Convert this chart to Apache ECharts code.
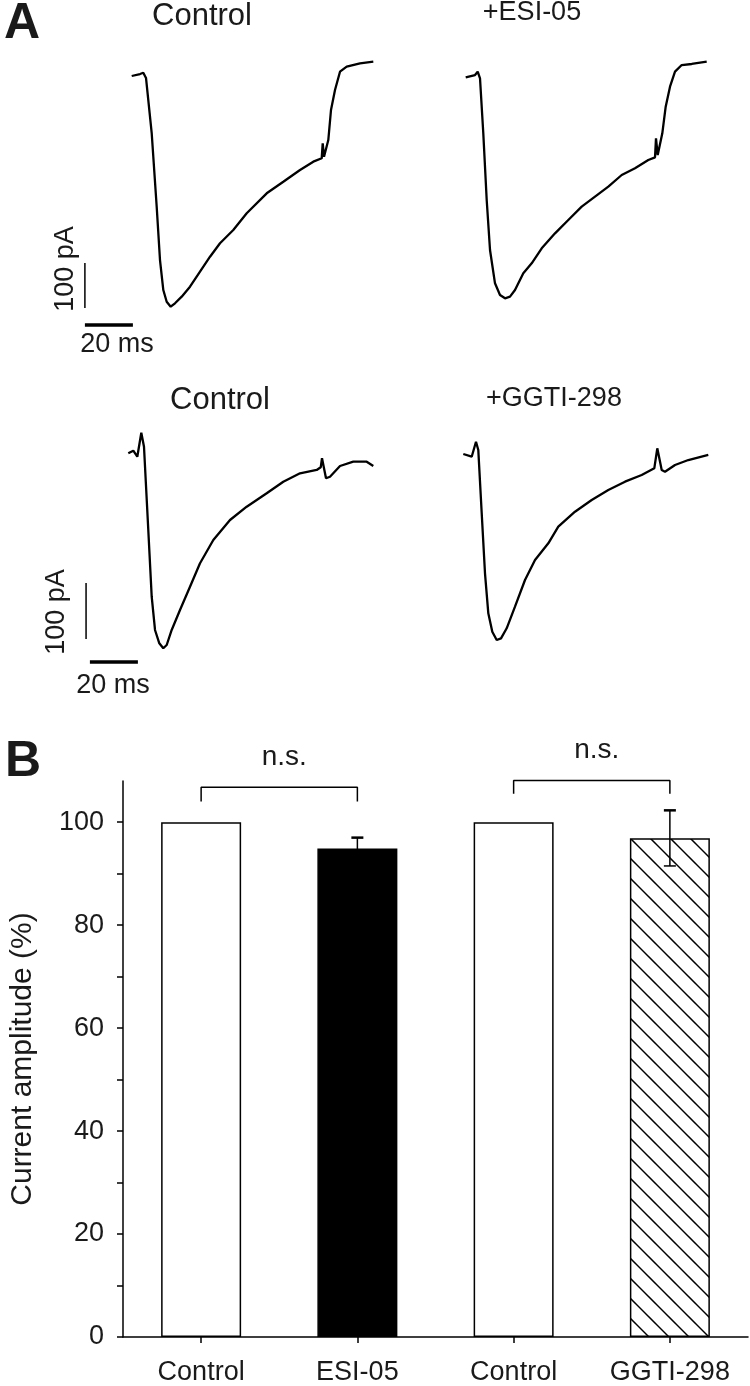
<!DOCTYPE html>
<html>
<head>
<meta charset="utf-8">
<script src="https://cdn.jsdelivr.net/npm/echarts@6/dist/echarts.min.js"></script>
<style>
html,body{margin:0;padding:0;background:#fff;}
#chart{width:750px;height:1386px;}
</style>
</head>
<body>
<div id="chart"></div>
<script>
// ---------- Panel A: current traces (time in ms, current in pA) ----------
const ctrl1Time = [0, 3.46, 4.83, 5.96, 8.33, 10.42, 11.79, 13.17, 14.58, 16.25, 18.04, 20.83, 24.29, 28.46, 32.63, 36.79, 42.33, 47.92, 56.25, 63.17, 70.13, 75.67, 79.17, 79.58, 80.13, 80.96, 81.92, 83.04, 84.71, 86.79, 89.58, 95.13, 100.67];
const ctrl1Current = [0, 4.4, 7.3, -4.4, -126.7, -291.1, -408.9, -475.6, -501.6, -512.7, -505.1, -490.4, -468.2, -434.9, -401.6, -371.8, -342.2, -305.1, -260.7, -234.9, -208.9, -190.4, -182.9, -149.6, -179.3, -182.9, -142.2, -75.6, -31.1, 9.6, 20.7, 28.2, 31.8];

const esiTime = [0, 3.88, 5.0, 5.96, 7.33, 8.75, 10.13, 12.21, 14.29, 16.38, 18.46, 20.54, 24.0, 27.5, 31.67, 37.21, 42.75, 48.33, 53.88, 59.42, 65.0, 70.54, 76.08, 78.88, 79.29, 80.0, 80.54, 81.92, 83.33, 85.13, 87.21, 90.0, 94.17, 100.42];
const esiCurrent = [-2.9, 2.2, 9.6, -5.1, -127.3, -275.6, -386.7, -460.7, -486.7, -494.0, -490.4, -475.6, -438.4, -416.2, -382.9, -349.6, -320.0, -290.4, -268.2, -246.0, -220.0, -205.1, -186.7, -180.7, -138.4, -175.6, -179.3, -127.3, -68.2, -23.8, 9.6, 24.4, 26.7, 31.8];

const ctrl2Time = [0, 2.08, 3.75, 5.42, 6.54, 8.33, 9.75, 11.13, 12.92, 14.58, 16.0, 18.08, 21.54, 25.71, 29.88, 35.42, 42.38, 49.33, 57.67, 64.58, 71.54, 78.5, 80.17, 80.71, 82.38, 84.04, 88.21, 93.75, 99.33, 102.08];
const ctrl2Current = [0, 4.6, -6.1, 36.8, 11.8, -137.0, -256.1, -315.5, -339.3, -348.2, -342.3, -315.5, -279.8, -238.2, -196.4, -154.8, -119.1, -95.4, -71.4, -50.7, -35.7, -29.8, -25.0, -8.9, -44.6, -41.8, -22.7, -15.0, -15.0, -22.7];

const ggtiTime = [0, 3.5, 5.29, 6.25, 7.67, 9.04, 10.42, 12.08, 13.92, 15.71, 18.08, 21.54, 25.71, 29.88, 35.42, 39.58, 46.54, 53.5, 60.42, 67.38, 74.33, 79.58, 80.83, 82.67, 84.04, 88.21, 93.75, 102.08];
const ggtiCurrent = [-1.3, -6.1, 20.7, 5.9, -107.1, -214.3, -285.7, -318.6, -333.4, -330.4, -312.5, -273.9, -226.3, -190.5, -160.7, -131.1, -104.3, -83.4, -65.5, -50.7, -38.8, -26.8, 8.9, -29.8, -32.9, -20.9, -12.0, -3.0];

const traceTitles = ['Control', '+ESI-05', 'Control', '+GGTI-298'];

// scale bars: [start time, length ms] and [time, bottom current, length pA]
const scaleTimeStart = [-19.5, -16.0];
const scaleTimeLevel = [-553.3, -372.7];
const scaleTimeLength = 20;
const scaleCurrentTime = [-19.5, -17.6];
const scaleCurrentBottom = [-515.6, -331.6];
const scaleCurrentLength = 100;

// ---------- Panel B: bar chart ----------
const categories = ['Control', 'ESI-05', 'Control', 'GGTI-298'];
const amplitudes = [100, 94.9, 100, 96.9];
const sems = [0, 2.1, 0, 5.4];
const yTickValues = [0, 10, 20, 30, 40, 50, 60, 70, 80, 90, 100];
const yLabelValues = [0, 20, 40, 60, 80, 100];
const bracketPairs = [[0, 1], [2, 3]];
const bracketTops = [106.8, 108.1];
const bracketFeet = [104.0, 105.5];

const FONT = 'Liberation Sans, Arial, Helvetica, sans-serif';
const TXT = '#1a1a1a';

function zip(a, b) { return a.map((v, k) => [v, b[k]]); }

// hatch pattern
const hatch = document.createElement('canvas');
hatch.width = 20; hatch.height = 20;
(function () {
  const c = hatch.getContext('2d');
  c.fillStyle = '#fff'; c.fillRect(0, 0, 20, 20);
  c.strokeStyle = '#000'; c.lineWidth = 1.5;
  for (let k = -2; k <= 1; k++) {
    c.beginPath();
    c.moveTo(-5, 8 + 20 * k - 5);
    c.lineTo(25, 8 + 20 * k + 25);
    c.stroke();
  }
})();

const chart = echarts.init(document.getElementById('chart'), null, { renderer: 'canvas' });

const rowGrids = [
  { left: 83.7, top: 49, width: 297.6, height: 288 },
  { left: 417.7, top: 49, width: 297.6, height: 288 },
  { left: 80.3, top: 419.7, width: 297.6, height: 257.6 },
  { left: 415.3, top: 419.7, width: 297.6, height: 257.6 }
];
const rowY = [[-580, 60], [-580, 60], [-400, 60], [-400, 60]];

const grids = rowGrids.slice();
grids.push({ left: 111, right: 2, top: 781, bottom: 48 });

const xAxes = [], yAxes = [];
for (let i = 0; i < 4; i++) {
  xAxes.push({ type: 'value', gridIndex: i, min: -20, max: 104, show: false });
  yAxes.push({ type: 'value', gridIndex: i, min: rowY[i][0], max: rowY[i][1], show: false });
}
xAxes.push({
  type: 'category', gridIndex: 4, data: categories,
  axisLine: { show: true, lineStyle: { color: '#000', width: 1.5 } },
  axisTick: { show: true, alignWithLabel: true, length: 6, lineStyle: { color: '#000', width: 1.5 } },
  axisLabel: { fontSize: 27, color: TXT, fontFamily: FONT, margin: 22, interval: 0 },
  splitLine: { show: false }
});
yAxes.push({
  type: 'value', gridIndex: 4, min: 0, max: 108,
  name: 'Current amplitude (%)', nameLocation: 'middle', nameGap: 85,
  nameTextStyle: { fontSize: 30, color: TXT, fontFamily: FONT },
  axisLine: { show: true, lineStyle: { color: '#000', width: 1.5 } },
  axisTick: { show: true, length: 6, customValues: yTickValues, lineStyle: { color: '#000', width: 1.5 } },
  axisLabel: { fontSize: 27, color: TXT, fontFamily: FONT, margin: 19, customValues: yLabelValues },
  splitLine: { show: false }
});

const traces = [zip(ctrl1Time, ctrl1Current), zip(esiTime, esiCurrent), zip(ctrl2Time, ctrl2Current), zip(ggtiTime, ggtiCurrent)];
const series = [];
traces.forEach((d, i) => {
  series.push({
    type: 'line', xAxisIndex: i, yAxisIndex: i, data: d, symbol: 'none',
    lineStyle: { color: '#000', width: 2.3 }, silent: true, animation: false
  });
});
// scale bars (in control grids: 0 and 2)
[0, 2].forEach((g, r) => {
  series.push({
    type: 'line', xAxisIndex: g, yAxisIndex: g, symbol: 'none', animation: false, clip: false,
    data: [[scaleTimeStart[r], scaleTimeLevel[r]], [scaleTimeStart[r] + scaleTimeLength, scaleTimeLevel[r]]],
    lineStyle: { color: '#000', width: 3.5 }
  });
  series.push({
    type: 'line', xAxisIndex: g, yAxisIndex: g, symbol: 'none', animation: false, clip: false,
    data: [[scaleCurrentTime[r], scaleCurrentBottom[r]], [scaleCurrentTime[r], scaleCurrentBottom[r] + scaleCurrentLength]],
    lineStyle: { color: '#000', width: 1.5 }
  });
});

// bars
const barStyles = [
  { color: '#fff', borderColor: '#000', borderWidth: 1.5 },
  { color: '#000', borderColor: '#000', borderWidth: 1.5 },
  { color: '#fff', borderColor: '#000', borderWidth: 1.5 },
  { color: { image: hatch, repeat: 'repeat' }, borderColor: '#000', borderWidth: 1.5 }
];
series.push({
  type: 'bar', xAxisIndex: 4, yAxisIndex: 4, barWidth: 80, animation: false,
  data: amplitudes.map((v, i) => ({ value: v, itemStyle: barStyles[i] }))
});
// error bars
const errData = [];
amplitudes.forEach((v, i) => { if (sems[i] > 0) errData.push([i, v - sems[i], v + sems[i]]); });
series.push({
  type: 'custom', xAxisIndex: 4, yAxisIndex: 4, animation: false, z: 5,
  data: errData,
  renderItem: function (params, api) {
    const lo = api.coord([api.value(0), api.value(1)]);
    const hi = api.coord([api.value(0), api.value(2)]);
    const w = 6;
    const st = { stroke: '#000', lineWidth: 1.5 };
    return {
      type: 'group', children: [
        { type: 'line', shape: { x1: hi[0], y1: hi[1], x2: lo[0], y2: lo[1] }, style: st },
        { type: 'line', shape: { x1: hi[0] - w, y1: hi[1], x2: hi[0] + w, y2: hi[1] }, style: { stroke: '#000', lineWidth: 2.5 } },
        { type: 'line', shape: { x1: lo[0] - w, y1: lo[1], x2: lo[0] + w, y2: lo[1] }, style: st }
      ]
    };
  },
  encode: { x: 0, y: [1, 2] }
});
// significance brackets
bracketPairs.forEach((p, k) => {
  series.push({
    type: 'line', xAxisIndex: 4, yAxisIndex: 4, symbol: 'none', animation: false, clip: false,
    data: [[p[0], bracketFeet[k]], [p[0], bracketTops[k]], [p[1], bracketTops[k]], [p[1], bracketFeet[k]]],
    lineStyle: { color: '#000', width: 1.5 }
  });
});

chart.setOption({
  backgroundColor: '#fff',
  animation: false,
  grid: grids,
  xAxis: xAxes,
  yAxis: yAxes,
  series: series
});

// ---------- text annotations ----------
function txt(text, x, y, size, opts) {
  opts = opts || {};
  return {
    type: 'text', x: x, y: y, rotation: opts.rotation || 0, z: 100,
    style: {
      text: text, fill: TXT, fontFamily: FONT, fontSize: size,
      fontWeight: opts.bold ? 'bold' : 'normal',
      align: opts.align || 'center', verticalAlign: 'middle'
    }
  };
}
const g = [];
g.push(txt('A', 4, 24, 50, { bold: true, align: 'left' }));
g.push(txt('B', 5, 762, 50, { bold: true, align: 'left' }));
g.push(txt(traceTitles[0], 202, 16, 31));
g.push(txt(traceTitles[1], 532, 13, 27));
g.push(txt(traceTitles[2], 220, 400, 31));
g.push(txt(traceTitles[3], 554, 399, 27));
g.push(txt('100 pA', 66, 269, 27, { rotation: Math.PI / 2 }));
g.push(txt('20 ms', 117, 345, 27));
g.push(txt('100 pA', 57, 612, 27, { rotation: Math.PI / 2 }));
g.push(txt('20 ms', 113, 686, 27));
bracketPairs.forEach((p, k) => {
  const a = chart.convertToPixel({ gridIndex: 4 }, [p[0], bracketTops[k]]);
  const b = chart.convertToPixel({ gridIndex: 4 }, [p[1], bracketTops[k]]);
  g.push(txt('n.s.', (a[0] + b[0]) / 2 + 5, a[1] - 30, 28));
});
chart.setOption({ graphic: g });
</script>
</body>
</html>
